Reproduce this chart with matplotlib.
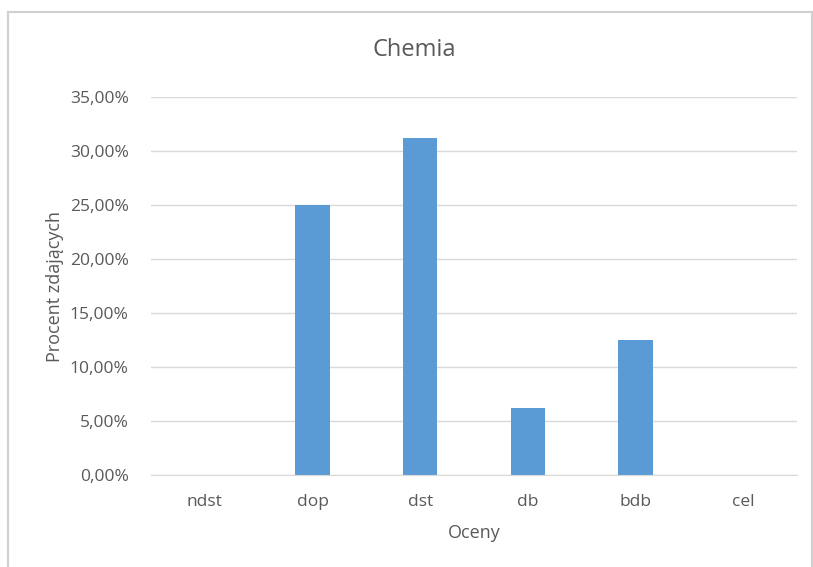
import matplotlib
matplotlib.use("Agg")
import matplotlib.pyplot as plt
from matplotlib.patches import Rectangle
from matplotlib.ticker import FuncFormatter

categories = ["ndst", "dop", "dst", "db", "bdb", "cel"]
percent = [0.0, 25.0, 31.25, 6.25, 12.5, 0.0]

TEXT = "#595959"
GRID = "#D9D9D9"
BAR = "#5B9BD5"

plt.rcParams["font.family"] = ["Open Sans", "DejaVu Sans"]

fig = plt.figure(figsize=(8.13, 5.67), dpi=100)
ax = fig.add_axes([151 / 813, 1 - 475 / 567, (797 - 151) / 813, (475 - 97) / 567])

# chart border
fig.patches.append(Rectangle((8 / 813, -0.1), (812 - 8) / 813, 1.1 - 12 / 567,
                             transform=fig.transFigure, fill=False,
                             edgecolor="#D0D0D0", linewidth=1.5))

x = range(len(categories))
ax.bar(x, percent, width=0.32, color=BAR, zorder=3)

ax.set_xlim(-0.5, len(categories) - 0.5)
ax.set_ylim(0, 35)
ax.set_yticks([0, 5, 10, 15, 20, 25, 30, 35])
ax.yaxis.set_major_formatter(FuncFormatter(lambda v, p: f"{v:.2f}%".replace(".", ",")))
ax.set_xticks(list(x))
ax.set_xticklabels(categories)

ax.grid(True, axis="y", color=GRID, linewidth=1, zorder=0)
for s in ["top", "right", "left"]:
    ax.spines[s].set_visible(False)
ax.spines["bottom"].set_color(GRID)
ax.spines["bottom"].set_zorder(4)
ax.tick_params(axis="both", length=0, labelsize=12.5, colors=TEXT)
ax.tick_params(axis="y", pad=16)
ax.tick_params(axis="x", pad=14)

fig.text(414 / 813, 1 - 50 / 567, "Chemia", fontsize=17, color=TEXT,
         ha="center", va="center")
ax.set_xlabel("Oceny", fontsize=13, color=TEXT, labelpad=10)
ax.set_ylabel("Procent zdających", fontsize=13, color=TEXT, labelpad=4)

fig.savefig("out.png", dpi=100)
